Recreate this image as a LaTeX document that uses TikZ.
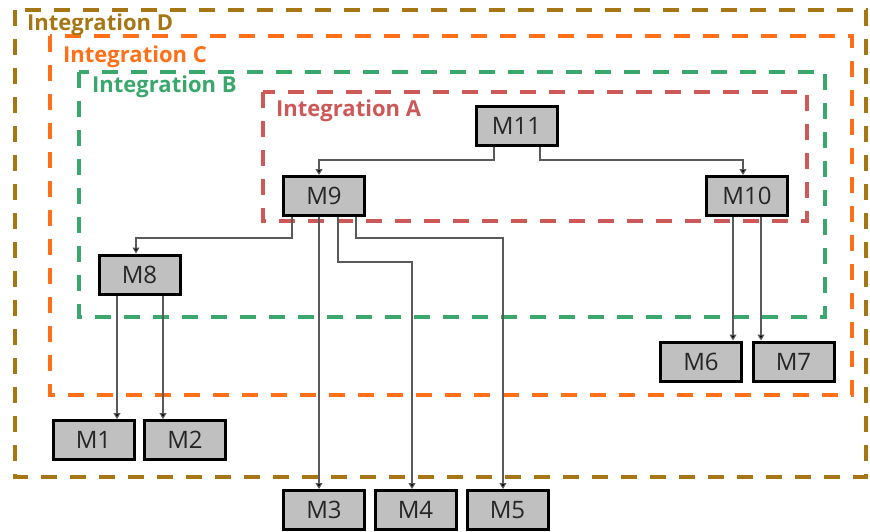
\documentclass[tikz,border=0pt]{standalone}
\usepackage{fontspec}
\setmainfont{Open Sans}
\usetikzlibrary{arrows.meta}
\definecolor{colD}{RGB}{166,118,20}
\definecolor{colC}{RGB}{255,112,24}
\definecolor{colB}{RGB}{58,168,108}
\definecolor{colA}{RGB}{205,88,88}
\definecolor{boxfill}{RGB}{192,192,192}
\definecolor{conncol}{RGB}{90,90,90}
\tikzset{
  grp/.style={line width=3.5pt, dash pattern=on 16pt off 13pt},
  grplabel/.style={anchor=base west, inner sep=0pt, font=\fontsize{22}{26}\selectfont\bfseries},
  mod/.style={draw=black, line width=3pt, fill=boxfill, minimum width=81pt, minimum height=39pt, inner sep=0pt, font=\fontsize{24}{28}\selectfont, text=black!85},
  conn/.style={draw=conncol, line width=1.1pt, -{Triangle[width=7pt,length=6pt,fill=black]}}
}
\begin{document}
\begin{tikzpicture}[x=1pt,y=-1pt]
\useasboundingbox (0,0) rectangle (870,531);
% group boxes
\draw[grp, colD] (15,10) rectangle (866,477);
\draw[grp, colC] (50,36) rectangle (852,395);
\draw[grp, colB] (79,72) rectangle (825,317);
\draw[grp, colA] (263,92) rectangle (807,221);
\node[grplabel, text=colD] (LD) at (27,30) {Integration D};
\node[grplabel, text=colC] (LC) at (63,62) {Integration C};
\node[grplabel, text=colB] (LB) at (92,92) {Integration B};
\node[grplabel, text=colA] (LA) at (276,116) {Integration A};
% modules
\node[mod] (M11) at (516.5,125.5) {M11};
\node[mod] (M9) at (324,196) {M9};
\node[mod] (M10) at (747,196) {M10};
\node[mod] (M8) at (139.5,274.5) {M8};
\node[mod] (M6) at (701,361.5) {M6};
\node[mod] (M7) at (793.5,361.5) {M7};
\node[mod] (M1) at (93.5,440) {M1};
\node[mod] (M2) at (185,440) {M2};
\node[mod] (M3) at (324,510) {M3};
\node[mod] (M4) at (415.5,510) {M4};
\node[mod] (M5) at (507.5,510) {M5};
% connector end points
\coordinate (s11a) at ([xshift=-22.5pt]M11.south);
\coordinate (s11b) at ([xshift=23.5pt]M11.south);
\coordinate (e9) at ([xshift=-5pt]M9.north);
\coordinate (e10) at ([xshift=-4pt]M10.north);
\coordinate (s9a) at ([xshift=-32pt]M9.south);
\coordinate (s9b) at ([xshift=-5pt]M9.south);
\coordinate (s9c) at ([xshift=14pt]M9.south);
\coordinate (s9d) at ([xshift=32pt]M9.south);
\coordinate (e8) at ([xshift=-3.5pt]M8.north);
\coordinate (e4) at ([xshift=-3.5pt]M4.north);
\coordinate (e5) at ([xshift=-4.5pt]M5.north);
\coordinate (s10a) at ([xshift=-14pt]M10.south);
\coordinate (s10b) at ([xshift=14pt]M10.south);
\coordinate (s8a) at ([xshift=-22.5pt]M8.south);
\coordinate (s8b) at ([xshift=23.5pt]M8.south);
% connectors
\draw[conn] (s11a) -- ++(0,13.5) -| (e9);
\draw[conn] (s11b) -- ++(0,13.5) -| (e10);
\draw[conn] (s9a) -- ++(0,21) -| (e8);
\draw[conn] (s9b) -- (s9b |- M3.north);
\draw[conn] (s9c) -- ++(0,45) -| (e4);
\draw[conn] (s9d) -- ++(0,21) -| (e5);
\draw[conn] (s10a) -- (s10a |- M6.north);
\draw[conn] (s10b) -- (s10b |- M7.north);
\draw[conn] (s8a) -- (s8a |- M1.north);
\draw[conn] (s8b) -- (s8b |- M2.north);
\end{tikzpicture}
\end{document}
